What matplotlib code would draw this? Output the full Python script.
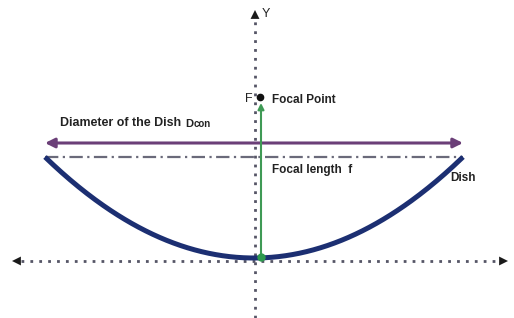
import numpy as np
import matplotlib
matplotlib.use("Agg")
import matplotlib.pyplot as plt

# Diagram quantities (diagram units, vertex of the dish at origin)
dish_center_x = -1
dish_half_width = 209
dish_depth = 101
focal_height = 161
diameter_line_y = 115
x_axis_range = [-243, 253]
y_axis_range = [-60, 248]
axis_offset_y = -3
focus_x = 5

labels = {
    "focal_point": "Focal Point",
    "diameter": "Diameter of the Dish",
    "focal_length": "Focal length  f",
    "dish": "Dish",
    "F": "F",
    "Y": "Y",
}

fig = plt.figure(figsize=(5.14, 3.18), dpi=100)
ax = fig.add_axes([0, 0, 1, 1])
ax.set_xlim(-255, 259)
ax.set_ylim(-60, 258)
ax.axis("off")

font = "Liberation Sans"
axis_col = "#555566"

# horizontal axis (dotted) with arrows
ax.plot([x_axis_range[0] + 9, x_axis_range[1] - 9], [axis_offset_y, axis_offset_y],
        ls=(0, (1, 2.2)), lw=2, color=axis_col)
ax.annotate("", xy=(x_axis_range[0], axis_offset_y), xytext=(x_axis_range[0] + 10, axis_offset_y),
            arrowprops=dict(arrowstyle="-|>", color="#1a1a1a", lw=0, mutation_scale=16,
                            shrinkA=0, shrinkB=0))
ax.annotate("", xy=(x_axis_range[1], axis_offset_y), xytext=(x_axis_range[1] - 10, axis_offset_y),
            arrowprops=dict(arrowstyle="-|>", color="#1a1a1a", lw=0, mutation_scale=16,
                            shrinkA=0, shrinkB=0))

# vertical axis (dotted) with arrow
ax.plot([0, 0], [y_axis_range[0], y_axis_range[1] - 7], ls=(0, (1, 2.2)), lw=2, color=axis_col)
ax.annotate("", xy=(0, y_axis_range[1]), xytext=(0, y_axis_range[1] - 10),
            arrowprops=dict(arrowstyle="-|>", color="#1a1a1a", lw=0, mutation_scale=16,
                            shrinkA=0, shrinkB=0))
ax.text(7, y_axis_range[1] - 4, labels["Y"], fontsize=9, color="#222222", family=font,
        va="center", ha="left")

# dish parabola
xs = np.linspace(-dish_half_width, dish_half_width, 300)
ys = dish_depth * (xs / dish_half_width) ** 2
ax.plot(xs + dish_center_x, ys, color="#1c2f72", lw=3.6, solid_capstyle="butt", zorder=5)

# dash-dot rim line
ax.plot([dish_center_x - dish_half_width, dish_center_x + dish_half_width], [dish_depth, dish_depth],
        ls=(0, (6, 2, 1, 2)), lw=1.6, color="#6a6a7a", zorder=3)

# diameter arrow (double headed)
ax.annotate("", xy=(dish_center_x - dish_half_width, diameter_line_y),
            xytext=(dish_center_x + dish_half_width, diameter_line_y),
            arrowprops=dict(arrowstyle="<|-|>", color="#6b3f78", lw=2.2, mutation_scale=14,
                            shrinkA=0, shrinkB=0), zorder=4)

# focal length arrow (green)
ax.annotate("", xy=(focus_x + 1, focal_height - 6), xytext=(focus_x + 1, 0),
            arrowprops=dict(arrowstyle="-|>", color="#3f9a55", lw=1.5, mutation_scale=9,
                            shrinkA=0, shrinkB=0), zorder=6)
ax.plot([focus_x + 1], [1], "o", color="#2e9a4e", ms=5, zorder=7)

# focal point
ax.plot([focus_x], [focal_height], "o", color="#111111", ms=4.5, zorder=7)
ax.text(focus_x - 7, focal_height - 2, labels["F"], fontsize=9, family=font, color="#222222",
        ha="right", va="center")
ax.text(focus_x + 12, focal_height - 3, labels["focal_point"], fontsize=8.5, family=font,
        weight="bold", color="#222222", ha="left", va="center")

# labels
ax.text(-195, 135, labels["diameter"], fontsize=8.9, family=font, weight="bold",
        color="#222222", ha="left", va="center")
ax.text(-70, 131, "D", fontsize=8, family=font, weight="bold", color="#222222",
        ha="left", va="baseline")
ax.text(-61.5, 131, "con", fontsize=7, family=font, weight="bold", color="#222222",
        ha="left", va="baseline")
ax.text(focus_x + 12, 88, labels["focal_length"], fontsize=8.5, family=font, weight="bold",
        color="#222222", ha="left", va="center")
ax.text(195, 80, labels["dish"], fontsize=8.5, family=font, weight="bold",
        color="#222222", ha="left", va="center")

fig.savefig("out.png", dpi=100)
